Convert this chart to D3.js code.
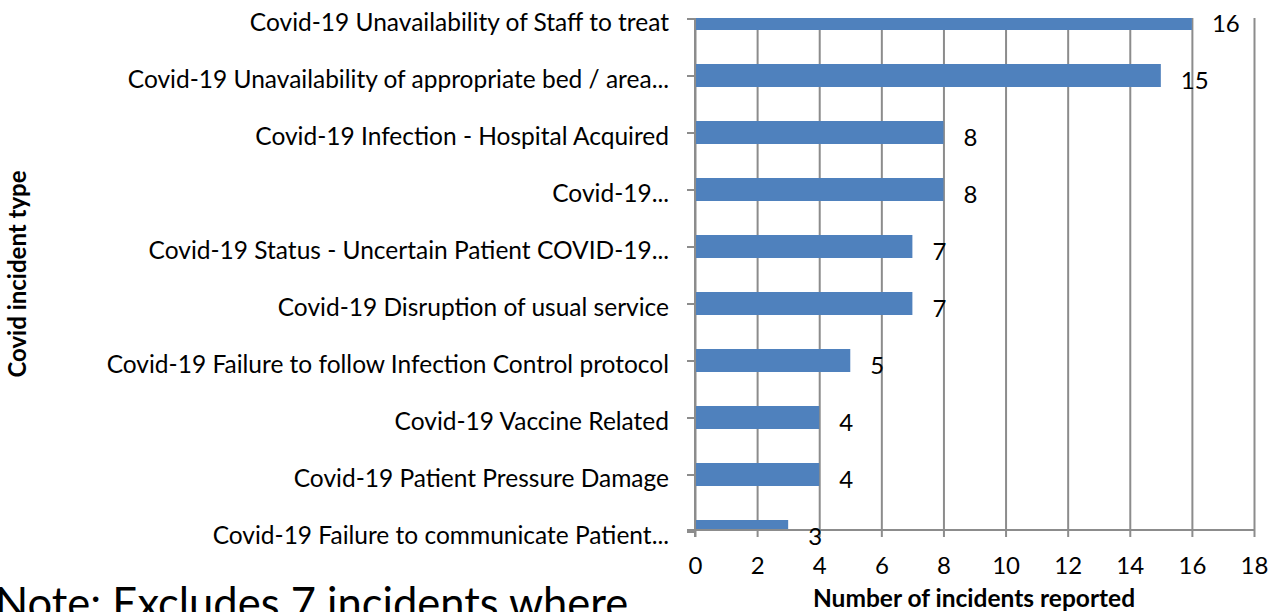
<!DOCTYPE html>
<html>
<head>
<meta charset="utf-8">
<script src="https://cdnjs.cloudflare.com/ajax/libs/d3/7.8.5/d3.min.js"></script>
<style>
  body { margin: 0; background: #fff; overflow: hidden; }
  text { font-family: Lato, "Open Sans", sans-serif; fill: #000; }
</style>
</head>
<body>
<script>
var categories = [
  "Covid-19 Unavailability of Staff to treat",
  "Covid-19 Unavailability of appropriate bed / area...",
  "Covid-19 Infection - Hospital Acquired",
  "Covid-19...",
  "Covid-19 Status - Uncertain Patient COVID-19...",
  "Covid-19 Disruption of usual service",
  "Covid-19 Failure to follow Infection Control protocol",
  "Covid-19 Vaccine Related",
  "Covid-19 Patient Pressure Damage",
  "Covid-19 Failure to communicate Patient..."
];
var counts = [16, 15, 8, 8, 7, 7, 5, 4, 4, 3];
var xTicks = [0, 2, 4, 6, 8, 10, 12, 14, 16, 18];

var w = 1277;
var h = 612;
var plotLeft = 695, plotRight = 1254, plotTop = 18, plotBottom = 530;
var barH = 23;
var grey = "#8c8c8c";

var svg = d3.select("body")
            .append("svg")
            .attr("width", w)
            .attr("height", h);

var x = d3.scaleLinear().domain([0, 18]).range([plotLeft, plotRight]);
var y = d3.scalePoint().domain(categories).range([plotTop + 0.5, 531.5]);

svg.append("clipPath").attr("id", "plotclip")
  .append("rect")
  .attr("x", plotLeft).attr("y", plotTop)
  .attr("width", plotRight - plotLeft).attr("height", plotBottom - plotTop);

// gridlines + x ticks
var xAxis = d3.axisBottom(x).tickValues(xTicks).tickSize(7).tickPadding(20);
var gx = svg.append("g").attr("transform", "translate(0," + plotBottom + ")").call(xAxis);
gx.select(".domain").remove();
gx.selectAll(".tick line")
  .attr("stroke", grey).attr("stroke-width", 2)
  .attr("y1", -(plotBottom - plotTop)).attr("y2", 7);
gx.selectAll(".tick text").attr("font-size", 24).attr("font-family", "Lato, sans-serif");

// bars
svg.append("g").attr("clip-path", "url(#plotclip)")
  .selectAll(".bar")
  .data(counts)
  .enter()
  .append("rect")
  .attr("class", "bar")
  .attr("x", x(0) + 1)
  .attr("y", function(d, i) { return y(categories[i]) - barH / 2; })
  .attr("width", function(d) { return x(d) - x(0) - 1; })
  .attr("height", barH)
  .attr("fill", "#4f81bd");

// axis lines
svg.append("line").attr("x1", plotLeft).attr("x2", plotLeft).attr("y1", plotTop).attr("y2", plotBottom + 7)
  .attr("stroke", grey).attr("stroke-width", 2);
svg.append("line").attr("x1", plotLeft - 8).attr("x2", plotRight + 1).attr("y1", plotBottom).attr("y2", plotBottom)
  .attr("stroke", grey).attr("stroke-width", 2);

// y axis
var yAxis = d3.axisLeft(y).tickSize(8).tickPadding(18);
var gy = svg.append("g").attr("transform", "translate(" + plotLeft + ",0)").call(yAxis);
gy.select(".domain").remove();
gy.selectAll(".tick line").attr("stroke", grey).attr("stroke-width", 2);
gy.selectAll(".tick text").attr("font-size", 24.5).attr("font-family", "Lato, sans-serif")
  .attr("dy", "0.5em");

// value labels
svg.selectAll(".val")
  .data(counts)
  .enter()
  .append("text")
  .attr("class", "val")
  .attr("x", function(d) { return x(d) + 20; })
  .attr("y", function(d, i) { return y(categories[i]) + 4; })
  .attr("dominant-baseline", "central")
  .attr("font-size", 24)
  .text(function(d) { return d; });

// titles
svg.append("text")
  .attr("x", 974).attr("y", 607)
  .attr("text-anchor", "middle")
  .attr("font-size", 24.5).attr("font-weight", "bold")
  .text("Number of incidents reported");

svg.append("text")
  .attr("transform", "translate(26,274) rotate(-90)")
  .attr("text-anchor", "middle")
  .attr("font-size", 24).attr("font-weight", "bold")
  .text("Covid incident type");

svg.append("text")
  .attr("x", -5).attr("y", 619)
  .attr("font-size", 43.5)
  .text("Note: Excludes 7 incidents where");
</script>
</body>
</html>
